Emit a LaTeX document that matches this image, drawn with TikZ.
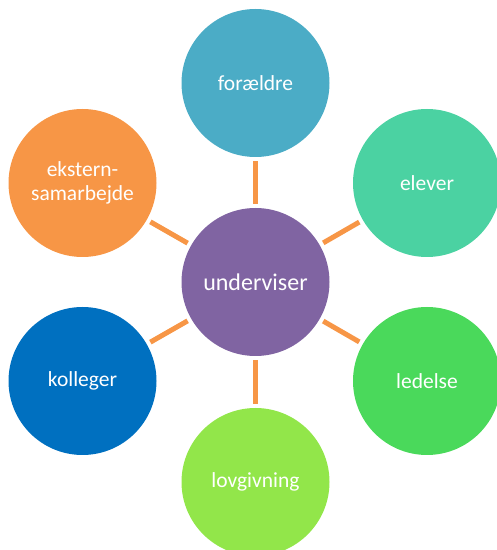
\documentclass[tikz,border=0pt]{standalone}
\usepackage{fontspec}
\setmainfont{Carlito}
\usetikzlibrary{calc}

\definecolor{teal1}{RGB}{75,172,198}
\definecolor{mint1}{RGB}{75,210,162}
\definecolor{green1}{RGB}{74,217,91}
\definecolor{lime1}{RGB}{146,230,74}
\definecolor{blue1}{RGB}{0,112,192}
\definecolor{orange1}{RGB}{247,150,70}
\definecolor{purple1}{RGB}{128,100,162}

\tikzset{
  bubble/.style={circle, minimum size=148pt, inner sep=0pt, text=white, font=\fontsize{21.5}{24}\selectfont, align=center},
  link/.style={line width=5pt, color=orange1, shorten >=4pt, shorten <=4pt}
}

\begin{document}
\begin{tikzpicture}[x=1pt,y=1pt]
		%%%%% START %%%%%
		\useasboundingbox (0,0) rectangle (497,550);
		
		\node[bubble, fill=purple1, font=\fontsize{24}{28}\selectfont] (underviser) at (255.5, 268) {underviser};
		
		\node[bubble, fill=teal1] (foraeldre) at (255.5, 467) {forældre};
		\node[bubble, fill=mint1] (elever) at (427, 367) {elever};
		\node[bubble, fill=green1] (ledelse) at (427, 169) {ledelse};
		\node[bubble, fill=lime1] (lovgivning) at (255.5, 68) {lovgivning};
		\node[bubble, fill=blue1] (kolleger) at (82.5, 169) {kolleger};
		\node[bubble, fill=orange1] (ekstern) at (82.5, 367) {ekstern-\\samarbejde};
		
		\foreach \n in {foraeldre, elever, ledelse, lovgivning, kolleger, ekstern}
			\draw[link] (underviser) -- (\n);
		
		%%%%% END %%%%%
	\end{tikzpicture}
\end{document}
